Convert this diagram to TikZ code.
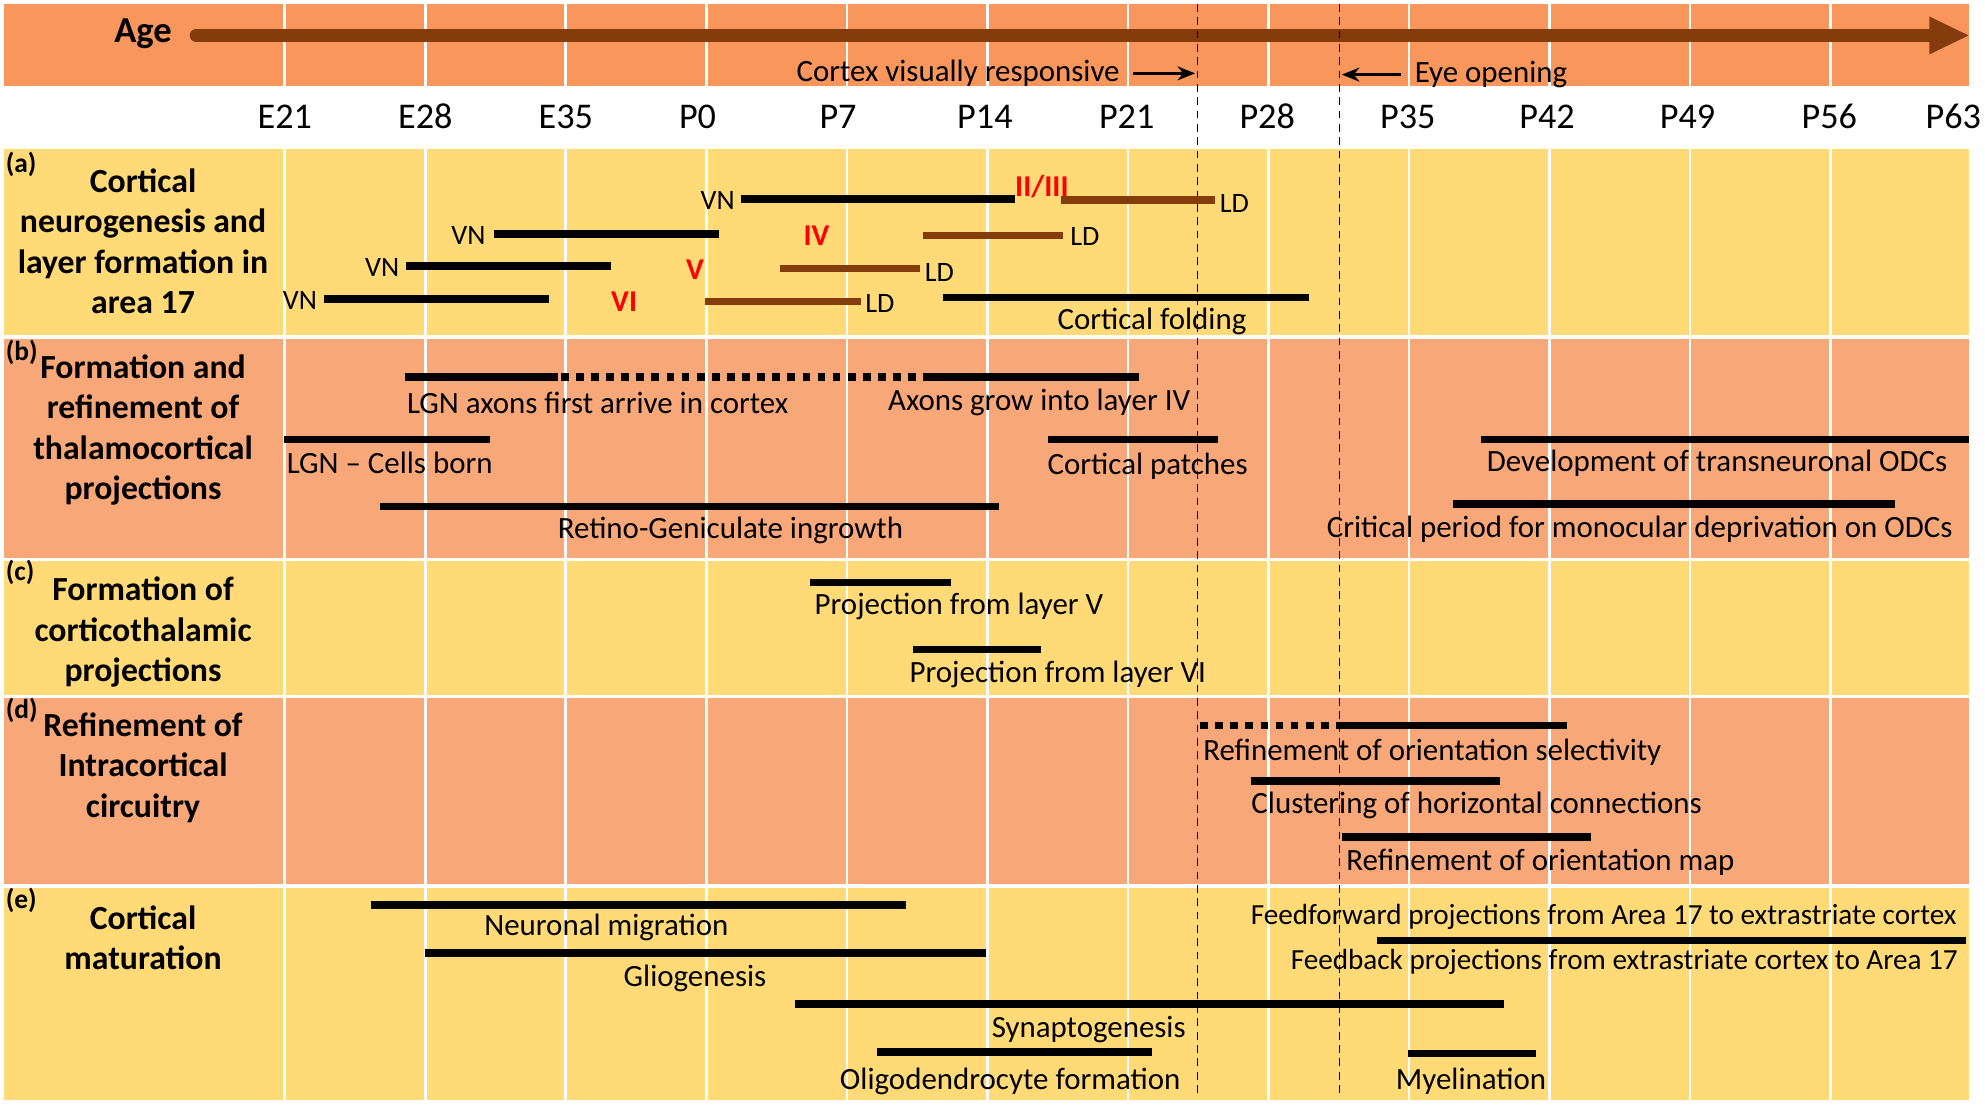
\documentclass[tikz,border=0pt]{standalone}
\usepackage{fontspec}
\setmainfont{Carlito}
\usetikzlibrary{arrows.meta}
\definecolor{hdrorange}{HTML}{F9965B}
\definecolor{rowsalmon}{HTML}{F8A779}
\definecolor{rowyellow}{HTML}{FFDA76}
\definecolor{agebrown}{HTML}{843C0C}
\definecolor{layerred}{HTML}{FF0000}
\tikzset{
  bar/.style={line width=2.15pt},
  layerbar/.style={line width=2.15pt,agebrown},
  dotbar/.style={line width=2.15pt,dash pattern=on 2.2pt off 2.1pt},
  lbl/.style={inner sep=0pt,yshift=-0.7pt,font=\fontsize{8.8}{10}\selectfont},
  lblsmall/.style={inner sep=0pt,yshift=-0.7pt,font=\fontsize{8.3}{10}\selectfont},
  small/.style={inner sep=0pt,font=\fontsize{8}{9}\selectfont},
  layer/.style={inner sep=0pt,text=layerred,font=\bfseries\fontsize{8.6}{9}\selectfont},
  tick/.style={inner sep=0pt,font=\fontsize{10.3}{12}\selectfont},
  rowtitle/.style={inner sep=0pt,yshift=-0.8pt,align=center,font=\bfseries\fontsize{9.6}{11.5}\selectfont},
  rowtag/.style={inner sep=0pt,anchor=west,font=\bfseries\fontsize{7.8}{9}\selectfont},
  grid/.style={white,line width=0.8pt},
  marker/.style={line width=0.4pt,dash pattern=on 2.2pt off 1.6pt},
  pointer/.style={line width=0.7pt,-{Stealth[length=5pt,width=4pt]}}
}
\begin{document}
\begin{tikzpicture}[x=0.01266cm,y=-0.01266cm]
\useasboundingbox (0,0) rectangle (1568,873);
\fill[white] (0,0) rectangle (1568,873);
\fill[hdrorange] (3,3) rectangle (1555,68);
\fill[rowyellow] (3,118) rectangle (1555,265);
\fill[rowsalmon] (3,267) rectangle (1555,441);
\fill[rowyellow] (3,443) rectangle (1555,549);
\fill[rowsalmon] (3,551) rectangle (1555,699);
\fill[rowyellow] (3,701) rectangle (1555,869);
\draw[grid] (225,3)--(225,869);
\draw[grid] (336,3)--(336,869);
\draw[grid] (447,3)--(447,869);
\draw[grid] (558,3)--(558,869);
\draw[grid] (669,3)--(669,869);
\draw[grid] (780,3)--(780,869);
\draw[grid] (891,3)--(891,869);
\draw[grid] (1002,3)--(1002,869);
\draw[grid] (1113,3)--(1113,869);
\draw[grid] (1224,3)--(1224,869);
\draw[grid] (1335,3)--(1335,869);
\draw[grid] (1446,3)--(1446,869);
\fill[white] (3,68) rectangle (1555,118);
\draw[white,line width=1pt] (3,266)--(1555,266);
\draw[white,line width=1pt] (3,442)--(1555,442);
\draw[white,line width=1pt] (3,550)--(1555,550);
\draw[white,line width=1pt] (3,700)--(1555,700);

\node[inner sep=0pt,font=\bfseries\fontsize{10.4}{12}\selectfont] (age) at (113,27) {Age};
\coordinate (agestart) at (155,28);
\coordinate (ageend) at (1525,28);
\draw[agebrown,line width=3.7pt,line cap=round] (agestart)--(ageend);
\fill[agebrown] (1524,13)--(1555,28)--(1524,43)--cycle;

\draw[marker] (946,3)--(946,863);
\draw[marker] (1058,3)--(1058,863);
\node[lbl,anchor=east] (visresp) at (885,56) {Cortex visually responsive};
\coordinate (visrespend) at (944,56);
\draw[pointer] ([xshift=3.6pt]visresp.east)--(visresp.east -| visrespend);
\node[lbl,anchor=west] (eyeopen) at (1117,57) {Eye opening};
\coordinate (eyeopenend) at (1060,57);
\draw[pointer] ([xshift=-3.6pt]eyeopen.west)--(eyeopen.west -| eyeopenend);

\node[tick] (e21) at (225,92) {E21};
\node[tick] (e28) at (336,92) {E28};
\node[tick] (e35) at (447,92) {E35};
\node[tick] (p0) at (551,92) {P0};
\node[tick] (p7) at (662,92) {P7};
\node[tick] (p14) at (778,92) {P14};
\node[tick] (p21) at (890,92) {P21};
\node[tick] (p28) at (1001,92) {P28};
\node[tick] (p35) at (1112,92) {P35};
\node[tick] (p42) at (1222,92) {P42};
\node[tick] (p49) at (1333,92) {P49};
\node[tick] (p56) at (1445,92) {P56};
\node[tick] (p63) at (1543,92) {P63};

\node[rowtag] (taga) at (4,130) {(a)};
\node[rowtitle] (titlea) at (113,188.5) {Cortical\\neurogenesis and\\layer formation in\\area 17};
\node[small,anchor=east] (vn1) at (581,158) {VN};
\draw[bar] (585,157)--(802,157);
\node[layer] (l23) at (823,147) {II/III};
\draw[layerbar] (838,158)--(960,158);
\node[small,anchor=west] (ld1) at (963,161) {LD};
\node[small,anchor=east] (vn2) at (384,186) {VN};
\draw[bar] (390,185)--(568,185);
\node[layer] (l4) at (645,186) {IV};
\draw[layerbar] (729,186)--(840,186);
\node[small,anchor=west] (ld2) at (845,187) {LD};
\node[small,anchor=east] (vn3) at (316,211) {VN};
\draw[bar] (321,210)--(483,210);
\node[layer] (l5) at (549,213) {V};
\draw[layerbar] (616,212)--(727,212);
\node[small,anchor=west] (ld3) at (730,215) {LD};
\node[small,anchor=east] (vn4) at (251,237) {VN};
\draw[bar] (256,236)--(434,236);
\node[layer] (l6) at (493,238) {VI};
\draw[layerbar] (557,238)--(680,238);
\node[small,anchor=west] (ld4) at (683,240) {LD};
\draw[bar] (745,235)--(1034,235);
\node[lbl] (folding) at (910,252) {Cortical folding};

\node[rowtag] (tagb) at (4,278) {(b)};
\node[rowtitle] (titleb) at (113,337.5) {Formation and\\refinement of\\thalamocortical\\projections};
\draw[bar] (320,298)--(441,298);
\draw[dotbar] (443,298)--(730,298);
\draw[bar] (730,298)--(900,298);
\node[lbl,anchor=west] (lgnarrive) at (321,316) {LGN axons first arrive in cortex};
\node[lbl,anchor=west] (layerIV) at (701,316) {Axons grow into layer IV};
\draw[bar] (224,347)--(387,347);
\node[lbl,anchor=west] (lgnborn) at (226,364) {LGN -- Cells born};
\draw[bar] (828,347)--(962,347);
\node[lbl,anchor=west] (patches) at (827,366) {Cortical patches};
\draw[bar] (1170,347)--(1555,347);
\node[lbl,anchor=west] (odcdev) at (1174,364) {Development of transneuronal ODCs};
\draw[bar] (300,400)--(789,400);
\node[lbl] (ingrowth) at (577,417) {Retino-Geniculate ingrowth};
\draw[bar] (1148,398)--(1497,398);
\node[lbl,anchor=east] (critical) at (1543,416) {Critical period for monocular deprivation on ODCs};

\node[rowtag] (tagc) at (4,452) {(c)};
\node[rowtitle] (titlec) at (113,497) {Formation of\\corticothalamic\\projections};
\draw[bar] (640,460)--(751,460);
\node[lbl,anchor=west] (projV) at (643,477) {Projection from layer V};
\draw[bar] (721,513)--(822,513);
\node[lbl,anchor=west] (projVI) at (718,531) {Projection from layer VI};

\node[rowtag] (tagd) at (4,561) {(d)};
\node[rowtitle] (titled) at (113,604) {Refinement of\\Intracortical\\circuitry};
\draw[dotbar] (948,573)--(1058,573);
\draw[bar] (1058,573)--(1238,573);
\node[lbl,anchor=west] (oriensel) at (950,592) {Refinement of orientation selectivity};
\draw[bar] (988,617)--(1185,617);
\node[lbl,anchor=west] (cluster) at (988,634) {Clustering of horizontal connections};
\draw[bar] (1060,661)--(1257,661);
\node[lbl,anchor=west] (orienmap) at (1063,679) {Refinement of orientation map};

\node[rowtag] (tage) at (4,711) {(e)};
\node[rowtitle] (titlee) at (113,738.5) {Cortical\\maturation};
\draw[bar] (293,715)--(716,715);
\node[lbl] (migration) at (479,731) {Neuronal migration};
\node[lblsmall,anchor=east] (feedfwd) at (1546,722) {Feedforward projections from Area 17 to extrastriate cortex};
\draw[bar] (1088,743)--(1553,743);
\node[lblsmall,anchor=east] (feedback) at (1547,758) {Feedback projections from extrastriate cortex to Area 17};
\draw[bar] (336,753)--(779,753);
\node[lbl] (glio) at (549,771) {Gliogenesis};
\draw[bar] (628,793)--(1188,793);
\node[lbl] (synapto) at (860,811) {Synaptogenesis};
\draw[bar] (693,831)--(910,831);
\node[lbl] (oligo) at (798,852) {Oligodendrocyte formation};
\draw[bar] (1112,832)--(1213,832);
\node[lbl] (myelin) at (1162,852) {Myelination};
\end{tikzpicture}
\end{document}
